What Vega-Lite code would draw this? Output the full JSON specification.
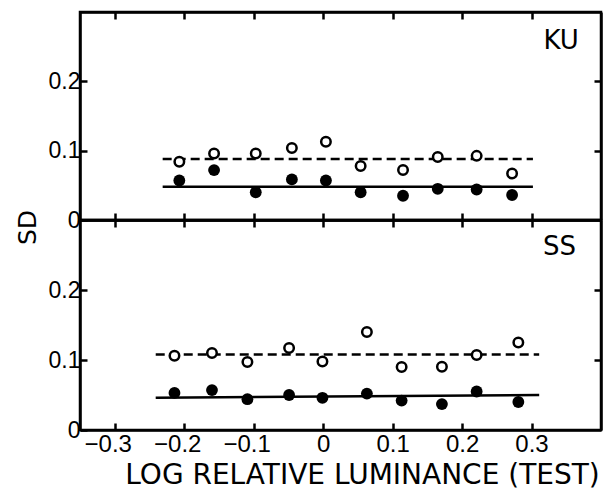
{
  "$schema": "https://vega.github.io/schema/vega-lite/v6.json",
  "background": "white",
  "padding": {"left": 13, "top": 9, "right": 5, "bottom": 0},
  "spacing": 0,
  "bounds": "flush",
  "datasets": {
    "points": [
      {"panel": "KU", "kind": "open", "x": -0.207, "y": 0.084},
      {"panel": "KU", "kind": "open", "x": -0.157, "y": 0.096},
      {"panel": "KU", "kind": "open", "x": -0.097, "y": 0.096},
      {"panel": "KU", "kind": "open", "x": -0.045, "y": 0.104},
      {"panel": "KU", "kind": "open", "x": 0.004, "y": 0.113},
      {"panel": "KU", "kind": "open", "x": 0.054, "y": 0.078},
      {"panel": "KU", "kind": "open", "x": 0.115, "y": 0.072},
      {"panel": "KU", "kind": "open", "x": 0.165, "y": 0.091},
      {"panel": "KU", "kind": "open", "x": 0.221, "y": 0.0925},
      {"panel": "KU", "kind": "open", "x": 0.272, "y": 0.067},
      {"panel": "KU", "kind": "filled", "x": -0.207, "y": 0.057},
      {"panel": "KU", "kind": "filled", "x": -0.157, "y": 0.072},
      {"panel": "KU", "kind": "filled", "x": -0.097, "y": 0.04},
      {"panel": "KU", "kind": "filled", "x": -0.045, "y": 0.0585},
      {"panel": "KU", "kind": "filled", "x": 0.004, "y": 0.057},
      {"panel": "KU", "kind": "filled", "x": 0.054, "y": 0.04},
      {"panel": "KU", "kind": "filled", "x": 0.115, "y": 0.035},
      {"panel": "KU", "kind": "filled", "x": 0.165, "y": 0.045},
      {"panel": "KU", "kind": "filled", "x": 0.221, "y": 0.044},
      {"panel": "KU", "kind": "filled", "x": 0.272, "y": 0.036},
      {"panel": "SS", "kind": "open", "x": -0.214, "y": 0.106},
      {"panel": "SS", "kind": "open", "x": -0.16, "y": 0.11},
      {"panel": "SS", "kind": "open", "x": -0.109, "y": 0.097},
      {"panel": "SS", "kind": "open", "x": -0.049, "y": 0.117},
      {"panel": "SS", "kind": "open", "x": -0.001, "y": 0.098},
      {"panel": "SS", "kind": "open", "x": 0.063, "y": 0.14},
      {"panel": "SS", "kind": "open", "x": 0.113, "y": 0.09},
      {"panel": "SS", "kind": "open", "x": 0.171, "y": 0.0905},
      {"panel": "SS", "kind": "open", "x": 0.221, "y": 0.107},
      {"panel": "SS", "kind": "open", "x": 0.281, "y": 0.125},
      {"panel": "SS", "kind": "filled", "x": -0.214, "y": 0.053},
      {"panel": "SS", "kind": "filled", "x": -0.16, "y": 0.057},
      {"panel": "SS", "kind": "filled", "x": -0.109, "y": 0.044},
      {"panel": "SS", "kind": "filled", "x": -0.049, "y": 0.05},
      {"panel": "SS", "kind": "filled", "x": -0.001, "y": 0.046},
      {"panel": "SS", "kind": "filled", "x": 0.063, "y": 0.052},
      {"panel": "SS", "kind": "filled", "x": 0.113, "y": 0.042},
      {"panel": "SS", "kind": "filled", "x": 0.171, "y": 0.037},
      {"panel": "SS", "kind": "filled", "x": 0.221, "y": 0.055},
      {"panel": "SS", "kind": "filled", "x": 0.281, "y": 0.04}
    ],
    "lines": [
      {"panel": "KU", "style": "dashed", "x": -0.231, "y": 0.088},
      {"panel": "KU", "style": "dashed", "x": 0.302, "y": 0.088},
      {"panel": "KU", "style": "solid", "x": -0.231, "y": 0.048},
      {"panel": "KU", "style": "solid", "x": 0.302, "y": 0.048},
      {"panel": "SS", "style": "dashed", "x": -0.241, "y": 0.108},
      {"panel": "SS", "style": "dashed", "x": 0.311, "y": 0.108},
      {"panel": "SS", "style": "solid", "x": -0.241, "y": 0.046},
      {"panel": "SS", "style": "solid", "x": 0.311, "y": 0.05}
    ],
    "labels": [
      {"panel": "KU", "label": "KU", "x": 0.368, "y": 0.246},
      {"panel": "SS", "label": "SS", "x": 0.364, "y": 0.25}
    ]
  },
  "vconcat": [
    {
      "width": 521,
      "height": 208,
      "layer": [
        {
          "data": {"name": "lines"},
          "transform": [{"filter": "datum.panel === 'KU' && datum.style === 'solid'"}],
          "mark": {"type": "line", "color": "black", "strokeWidth": 2.5},
          "encoding": {
            "x": {"field": "x", "type": "quantitative", "scale": {"domain": [-0.35, 0.4], "nice": false, "zero": false}, "axis": null},
            "y": {"field": "y", "type": "quantitative", "scale": {"domain": [0, 0.3], "nice": false}, "axis": null}
          }
        },
        {
          "data": {"name": "lines"},
          "transform": [{"filter": "datum.panel === 'KU' && datum.style === 'dashed'"}],
          "mark": {"type": "line", "color": "black", "strokeWidth": 2.5, "strokeDash": [9, 5]},
          "encoding": {
            "x": {"field": "x", "type": "quantitative", "scale": {"domain": [-0.35, 0.4], "nice": false, "zero": false}, "axis": null},
            "y": {"field": "y", "type": "quantitative", "scale": {"domain": [0, 0.3], "nice": false}, "axis": null}
          }
        },
        {
          "data": {"name": "points"},
          "transform": [{"filter": "datum.panel === 'KU' && datum.kind === 'open'"}],
          "mark": {"type": "point", "shape": "circle", "filled": true, "fill": "white", "stroke": "black", "strokeWidth": 2.5, "size": 90, "opacity": 1, "fillOpacity": 1},
          "encoding": {
            "x": {"field": "x", "type": "quantitative", "scale": {"domain": [-0.35, 0.4], "nice": false, "zero": false},
                  "axis": {"orient": "bottom", "values": [-0.3, -0.2, -0.1, 0, 0.1, 0.2, 0.3], "labels": false, "tickSize": -7, "title": null}},
            "y": {"field": "y", "type": "quantitative", "scale": {"domain": [0, 0.3], "nice": false},
                  "axis": {"orient": "left", "values": [0, 0.1, 0.2], "tickSize": -7, "labelPadding": 7,
                           "labelExpr": "datum.value === 0 ? '0' : format(datum.value, '.1f')",
                           "title": "SD", "titleX": -45, "titleY": 215, "titleAngle": -90, "titleAlign": "center", "titleBaseline": "alphabetic",
                           "titleFont": "DejaVu Sans", "titleFontSize": 25}}
          }
        },
        {
          "data": {"name": "points"},
          "transform": [{"filter": "datum.panel === 'KU' && datum.kind === 'filled'"}],
          "mark": {"type": "circle", "size": 140, "color": "black", "opacity": 1},
          "encoding": {
            "x": {"field": "x", "type": "quantitative", "scale": {"domain": [-0.35, 0.4], "nice": false, "zero": false},
                  "axis": {"orient": "top", "values": [-0.3, -0.2, -0.1, 0, 0.1, 0.2, 0.3], "labels": false, "tickSize": -7, "title": null}},
            "y": {"field": "y", "type": "quantitative", "scale": {"domain": [0, 0.3], "nice": false},
                  "axis": {"orient": "right", "values": [0.1, 0.2], "labels": false, "tickSize": -7, "title": null}}
          }
        },
        {
          "data": {"name": "labels"},
          "transform": [{"filter": "datum.panel === 'KU'"}],
          "mark": {"type": "text", "align": "right", "baseline": "alphabetic", "font": "DejaVu Sans", "fontSize": 26, "color": "black"},
          "encoding": {
            "x": {"field": "x", "type": "quantitative", "scale": {"domain": [-0.35, 0.4], "nice": false, "zero": false}, "axis": null},
            "y": {"field": "y", "type": "quantitative", "scale": {"domain": [0, 0.3], "nice": false}, "axis": null},
            "text": {"field": "label"}
          }
        }
      ],
      "resolve": {"axis": {"x": "independent", "y": "independent"}}
    },
    {
      "width": 521,
      "height": 210,
      "layer": [
        {
          "data": {"name": "lines"},
          "transform": [{"filter": "datum.panel === 'SS' && datum.style === 'solid'"}],
          "mark": {"type": "line", "color": "black", "strokeWidth": 2.5},
          "encoding": {
            "x": {"field": "x", "type": "quantitative", "scale": {"domain": [-0.35, 0.4], "nice": false, "zero": false}, "axis": null},
            "y": {"field": "y", "type": "quantitative", "scale": {"domain": [0, 0.3], "nice": false}, "axis": null}
          }
        },
        {
          "data": {"name": "lines"},
          "transform": [{"filter": "datum.panel === 'SS' && datum.style === 'dashed'"}],
          "mark": {"type": "line", "color": "black", "strokeWidth": 2.5, "strokeDash": [9, 5]},
          "encoding": {
            "x": {"field": "x", "type": "quantitative", "scale": {"domain": [-0.35, 0.4], "nice": false, "zero": false}, "axis": null},
            "y": {"field": "y", "type": "quantitative", "scale": {"domain": [0, 0.3], "nice": false}, "axis": null}
          }
        },
        {
          "data": {"name": "points"},
          "transform": [{"filter": "datum.panel === 'SS' && datum.kind === 'open'"}],
          "mark": {"type": "point", "shape": "circle", "filled": true, "fill": "white", "stroke": "black", "strokeWidth": 2.5, "size": 90, "opacity": 1, "fillOpacity": 1},
          "encoding": {
            "x": {"field": "x", "type": "quantitative", "scale": {"domain": [-0.35, 0.4], "nice": false, "zero": false},
                  "axis": {"orient": "bottom", "values": [-0.3, -0.2, -0.1, 0, 0.1, 0.2, 0.3], "tickSize": -7,
                           "labelPadding": 28, "labelBaseline": "alphabetic", "labelFontSize": 24,
                           "labelOffset": {"condition": {"test": "datum.value < 0", "value": -7}, "value": 0},
                           "labelExpr": "datum.value === 0 ? '0' : format(datum.value, '.1f')",
                           "title": "LOG RELATIVE LUMINANCE (TEST)", "titleX": 282, "titleY": 53, "titleAlign": "center", "titleBaseline": "alphabetic",
                           "titleFont": "DejaVu Sans", "titleFontSize": 28}},
            "y": {"field": "y", "type": "quantitative", "scale": {"domain": [0, 0.3], "nice": false},
                  "axis": {"orient": "left", "values": [0, 0.1, 0.2], "tickSize": -7, "labelPadding": 7,
                           "labelExpr": "datum.value === 0 ? '0' : format(datum.value, '.1f')", "title": null}}
          }
        },
        {
          "data": {"name": "points"},
          "transform": [{"filter": "datum.panel === 'SS' && datum.kind === 'filled'"}],
          "mark": {"type": "circle", "size": 140, "color": "black", "opacity": 1},
          "encoding": {
            "x": {"field": "x", "type": "quantitative", "scale": {"domain": [-0.35, 0.4], "nice": false, "zero": false},
                  "axis": {"orient": "top", "values": [-0.3, -0.2, -0.1, 0, 0.1, 0.2, 0.3], "labels": false, "tickSize": -7, "title": null}},
            "y": {"field": "y", "type": "quantitative", "scale": {"domain": [0, 0.3], "nice": false},
                  "axis": {"orient": "right", "values": [0.1, 0.2], "labels": false, "tickSize": -7, "title": null}}
          }
        },
        {
          "data": {"name": "labels"},
          "transform": [{"filter": "datum.panel === 'SS'"}],
          "mark": {"type": "text", "align": "right", "baseline": "alphabetic", "font": "DejaVu Sans", "fontSize": 26, "color": "black"},
          "encoding": {
            "x": {"field": "x", "type": "quantitative", "scale": {"domain": [-0.35, 0.4], "nice": false, "zero": false}, "axis": null},
            "y": {"field": "y", "type": "quantitative", "scale": {"domain": [0, 0.3], "nice": false}, "axis": null},
            "text": {"field": "label"}
          }
        }
      ],
      "resolve": {"axis": {"x": "independent", "y": "independent"}}
    }
  ],
  "config": {
    "view": {"stroke": "black", "strokeWidth": 2.5},
    "axis": {
      "grid": false,
      "domainColor": "black",
      "domainWidth": 2.5,
      "tickColor": "black",
      "tickWidth": 2.5,
      "labelColor": "black",
      "labelFont": "Liberation Sans",
      "labelFontSize": 23,
      "titleColor": "black",
      "titleFontWeight": "normal"
    }
  }
}
